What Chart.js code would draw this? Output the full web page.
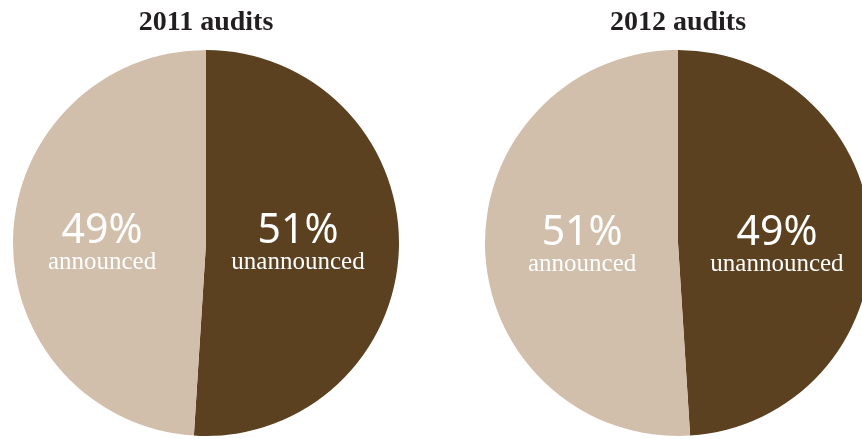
<!DOCTYPE html>
<html>
<head>
<meta charset="utf-8">
<script src="https://cdn.jsdelivr.net/npm/chart.js@4"></script>
<style>
  html, body { margin: 0; padding: 0; background: #ffffff; overflow: hidden; width: 862px; height: 439px; }
  .pie { position: absolute; top: 0; width: 386px; height: 439px; }
  #p1 { left: 13px; }
  #p2 { left: 485px; }
</style>
</head>
<body>
<div class="pie" id="p1"><canvas id="c1" width="386" height="439"></canvas></div>
<div class="pie" id="p2"><canvas id="c2" width="386" height="439"></canvas></div>
<script>
const categories = ['unannounced', 'announced'];
const titles = ['2011 audits', '2012 audits'];
const values2011 = [51, 49];
const values2012 = [49, 51];

const colors = ['#5c4120', '#d2bfab'];

const overlayPlugin = {
  id: 'overlay',
  afterDatasetsDraw(chart, args, opts) {
    const ctx = chart.ctx;
    ctx.save();
    // title
    ctx.fillStyle = '#231f20';
    ctx.font = 'bold 28px "Liberation Serif"';
    ctx.textAlign = 'center';
    ctx.textBaseline = 'alphabetic';
    ctx.fillText(opts.title, chart.width / 2, 30);
    // slice labels
    const meta = chart.getDatasetMeta(0);
    const data = chart.data.datasets[0].data;
    meta.data.forEach((arc, i) => {
      const p = arc.getProps(['x', 'y', 'startAngle', 'endAngle', 'outerRadius'], true);
      const mid = (p.startAngle + p.endAngle) / 2;
      const px = p.x + Math.cos(mid) * p.outerRadius * opts.factors[i];
      const py = p.y + opts.dy;
      ctx.fillStyle = '#ffffff';
      ctx.font = '41px "Noto Sans"';
      ctx.fillText(data[i] + '%', px, py);
      ctx.font = '25px "Liberation Serif"';
      ctx.fillText(chart.data.labels[i], px, py + 26);
    });
    ctx.restore();
  }
};

function makePie(id, values, title, factors, dy) {
  new Chart(document.getElementById(id), {
    type: 'pie',
    data: {
      labels: categories,
      datasets: [{ data: values, backgroundColor: colors, borderWidth: 0, hoverOffset: 0 }]
    },
    options: {
      responsive: false,
      animation: false,
      layout: { padding: { top: 50, bottom: 3, left: 0, right: 0 } },
      plugins: {
        legend: { display: false },
        tooltip: { enabled: false },
        title: { display: false },
        overlay: { title: title, factors: factors, dy: dy }
      }
    },
    plugins: [overlayPlugin]
  });
}

makePie('c1', values2011, titles[0], [0.477, 0.539], 0);
makePie('c2', values2012, titles[1], [0.513, 0.497], 2);
</script>
</body>
</html>
